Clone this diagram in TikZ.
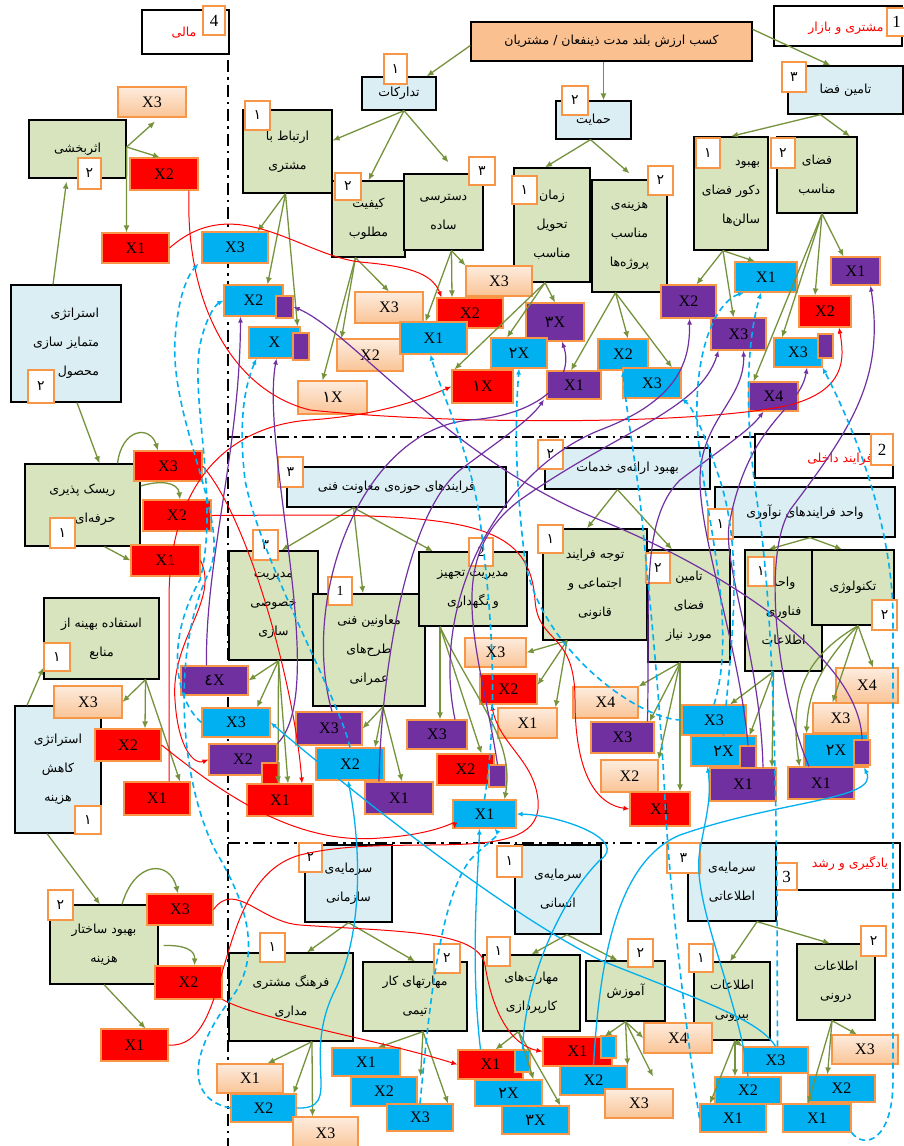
\documentclass[tikz,border=0pt]{standalone}
\usepackage{fontspec}
\setmainfont{Liberation Serif}
\newfontfamily\fa[Script=Arabic]{DejaVu Sans}
\TeXXeTstate=1
\usetikzlibrary{arrows.meta}
\definecolor{cgreen}{RGB}{215,228,189}
\definecolor{cblue}{RGB}{218,238,243}
\definecolor{corange}{RGB}{250,192,144}
\definecolor{corg}{RGB}{247,150,70}
\definecolor{xred}{RGB}{255,0,0}
\definecolor{xcyan}{RGB}{0,176,240}
\definecolor{xpurple}{RGB}{112,48,160}
\definecolor{peachT}{RGB}{253,236,222}
\definecolor{peachB}{RGB}{250,196,150}
\definecolor{carrow}{RGB}{118,146,60}
\newcommand\FA[1]{{\fa\beginR #1\endR}}
\newcommand\Bx[7]{%
 \pgfmathsetmacro\bxw{#5-#3}\pgfmathsetmacro\bxh{#6-#4}%
 \pgfmathsetmacro\bxx{(#3+#5)/2}\pgfmathsetmacro\bxy{(#4+#6)/2}%
 \node[#2,minimum width=\bxw pt,minimum height=\bxh pt] (#1) at (\bxx,\bxy) {#7};}
\begin{document}
\begin{tikzpicture}[x=1pt,y=-1pt,
 box/.style={rectangle,draw=black,line width=1.3pt,inner sep=0pt,align=center,font=\fontsize{12.5}{29}\selectfont},
 gbox/.style={box,fill=cgreen},
 bbox/.style={box,fill=cblue},
 obox/.style={box,fill=corange},
 wbox/.style={box,fill=white},
 badge/.style={rectangle,draw=corg,line width=1.4pt,fill=white,inner sep=0pt,font=\fontsize{14}{14}\selectfont},
 hbadge/.style={badge,font=\fontsize{17}{17}\selectfont},
 xb/.style={rectangle,draw=corg,line width=1.1pt,inner sep=0pt,font=\fontsize{16}{16}\selectfont},
 xr/.style={xb,fill=xred}, xc/.style={xb,fill=xcyan}, xp/.style={xb,fill=xpurple},
 xo/.style={xb,top color=peachT,bottom color=peachB},
 htext/.style={text=red,font=\fontsize{12.5}{12.5}\selectfont,inner sep=0pt},
 arr/.style={draw=carrow,line width=1.3pt,-{Latex[length=7pt,width=6pt]}},
 rl/.style={draw=red,line width=1pt,-{Latex[length=6pt,width=5pt]}},
 pl/.style={draw=xpurple,line width=1.2pt,-{Latex[length=6pt,width=5pt]}},
 bl/.style={draw=xcyan,line width=1.3pt,-{Latex[length=6pt,width=5pt]}},
 bd/.style={draw=xcyan,line width=1.6pt,dash pattern=on 6pt off 4pt,-{Latex[length=6pt,width=5pt]}},
 sepl/.style={draw=black,line width=2.4pt,dash pattern=on 12pt off 5pt on 2.5pt off 5pt}]
\useasboundingbox (0,0) rectangle (904,1146);
\fill[white] (0,0) rectangle (904,1146);
% separators
\coordinate (v1) at (228,60); \coordinate (v2) at (228,1146);
\coordinate (h1a) at (228,437); \coordinate (h1b) at (755,437);
\coordinate (h2a) at (228,843); \coordinate (h2b) at (776,843);
\draw[sepl] (v1) -- (v2);
\draw[sepl] (h1a) -- (h1b);
\draw[sepl] (h2a) -- (h2b);
% headers
\Bx{hMali}{wbox}{142}{10}{229}{54}{}
\node[htext] (tMali) at (184,33) {\FA{مالی}};
\Bx{bMali}{hbadge}{203}{6}{225}{35}{4}
\Bx{hMosh}{wbox}{774}{6}{902}{46}{}
\node[htext] (tMosh) at (846,28) {\FA{مشتری و بازار}};
\Bx{bMosh}{hbadge}{887}{8}{906}{36}{1}
\Bx{hFar}{wbox}{755}{434}{893}{478}{}
\node[htext] (tFar) at (840,459) {\FA{فرایند داخلی}};
\Bx{bFar}{hbadge}{871}{434}{893}{465}{2}
\Bx{hYad}{wbox}{776}{843}{900}{890}{}
\node[htext] (tYad) at (850,863) {\FA{یادگیری و رشد}};
\Bx{bYad}{hbadge}{776}{863}{797}{890}{3}
% customer
\Bx{main}{obox}{471}{22}{752}{61}{\FA{کسب ارزش بلند مدت ذینفعان / مشتریان}}
\Bx{tadarokat}{bbox}{362}{77}{436}{110}{\FA{تدارکات}}
\Bx{hemayat}{bbox}{556}{101}{631}{139}{\FA{حمایت}}
\Bx{tamin}{bbox}{788}{66}{903}{114}{\FA{تامین فضا}}
\Bx{bTad}{badge}{384}{54}{407}{84}{\fa ۱}
\Bx{bHem}{badge}{562}{86}{588}{115}{\fa ۲}
\Bx{bTam}{badge}{782}{62}{806}{92}{\fa ۳}
\Bx{ertebat}{gbox}{243}{110}{332}{193}{\FA{ارتباط با}\\\FA{مشتری}}
\Bx{kifiyat}{gbox}{332}{181}{405}{257}{\FA{کیفیت}\\\FA{مطلوب}}
\Bx{dastresi}{gbox}{404}{174}{483}{250}{\FA{دسترسی}\\\FA{ساده}}
\Bx{zaman}{gbox}{514}{168}{590}{282}{\FA{زمان}\\\FA{تحویل}\\\FA{مناسب}}
\Bx{hazine}{gbox}{592}{180}{667}{292}{\FA{هزینه‌ی}\\\FA{مناسب}\\\FA{پروژه‌ها}}
\Bx{behbud}{gbox,align=right}{694}{137}{768}{250}{\FA{بهبود}\\\FA{دکور فضای}\\\FA{سالن‌ها}}
\Bx{fazaye}{gbox}{777}{137}{857}{213}{\FA{فضای}\\\FA{مناسب}}
\Bx{bErt}{badge}{245}{101}{270}{130}{\fa ۱}
\Bx{bKif}{badge}{335}{173}{361}{200}{\fa ۲}
\Bx{bDas}{badge}{469}{157}{495}{185}{\fa ۳}
\Bx{bZam}{badge}{512}{176}{537}{204}{\fa ۱}
\Bx{bHaz}{badge}{648}{166}{673}{195}{\fa ۲}
\Bx{bBeh}{badge}{696}{138}{720}{168}{\fa ۱}
\Bx{bFaz}{badge}{771}{138}{795}{168}{\fa ۲}
\Bx{eX3}{xc}{202}{232}{268}{263}{X3}
\Bx{eX2}{xc}{224}{285}{283}{316}{X2}
\Bx{eX2sq}{xp}{276}{296}{293}{318}{}
\Bx{eX}{xc}{249}{327}{300}{358}{X}
\Bx{eXsq}{xp}{293}{333}{309}{360}{}
\Bx{kX3}{xo}{355}{292}{423}{323}{X3}
\Bx{kX2}{xo}{337}{339}{403}{371}{X2}
\Bx{kX1}{xo}{298}{381}{367}{414}{{\fa ۱}X}
\Bx{dX3}{xo}{466}{266}{532}{296}{X3}
\Bx{dX2}{xr}{437}{298}{503}{328}{X2}
\Bx{dX1}{xc}{400}{322}{467}{354}{X1}
\Bx{zX3}{xp}{526}{303}{584}{341}{{\fa ۳}X}
\Bx{zX2}{xc}{491}{338}{547}{368}{{\fa ۲}X}
\Bx{zX1}{xr}{452}{370}{513}{403}{{\fa ۱}X}
\Bx{hX1}{xp}{547}{371}{601}{399}{X1}
\Bx{hX2}{xc}{598}{339}{648}{370}{X2}
\Bx{hX3}{xc}{623}{368}{681}{398}{X3}
\Bx{bX2}{xp}{661}{285}{716}{318}{X2}
\Bx{bX1}{xc}{735}{262}{797}{292}{X1}
\Bx{bX3}{xp}{711}{318}{766}{350}{X3}
\Bx{fX1}{xp}{831}{257}{880}{285}{X1}
\Bx{fX2}{xr}{799}{296}{851}{327}{X2}
\Bx{fX3}{xc}{774}{338}{822}{367}{X3}
\Bx{fX3sq}{xp}{818}{334}{833}{358}{}
\Bx{fX4}{xp}{749}{382}{798}{411}{X4}
% finance
\Bx{asar}{gbox}{29}{120}{126}{178}{\FA{اثربخشی}}
\Bx{bAsar}{badge}{78}{158}{101}{189}{\fa ۲}
\Bx{aX3}{xo}{118}{87}{186}{117}{X3}
\Bx{aX2}{xr}{130}{158}{198}{190}{X2}
\Bx{aX1}{xr}{102}{233}{169}{263}{X1}
\Bx{motamayez}{bbox,align=right}{11}{285}{121}{402}{\FA{استراتژی}\\\FA{متمایز سازی}\\\FA{محصول}}
\Bx{bMot}{badge}{28}{370}{54}{403}{\fa ۲}
\Bx{risk}{gbox,align=right}{25}{464}{140}{546}{\FA{ریسک پذیری}\\\FA{حرفه‌ای}}
\Bx{bRisk}{badge}{50}{518}{75}{548}{\fa ۱}
\Bx{rX3}{xr}{134}{451}{202}{481}{X3}
\Bx{rX2}{xr}{143}{500}{211}{531}{X2}
\Bx{rX1}{xr}{131}{545}{200}{576}{X1}
\Bx{estefade}{gbox}{44}{598}{159}{679}{\FA{استفاده بهینه از}\\\FA{منابع}}
\Bx{bEst}{badge}{44}{643}{70}{671}{\fa ۱}
\Bx{kahesh}{bbox}{15}{706}{101}{833}{\FA{استراتژی}\\\FA{کاهش}\\\FA{هزینه}}
\Bx{bKah}{badge}{75}{806}{101}{834}{\fa ۱}
\Bx{cX3}{xo}{54}{686}{122}{718}{X3}
\Bx{cX2}{xr}{95}{729}{161}{761}{X2}
\Bx{cX1}{xr}{124}{782}{190}{815}{X1}
\Bx{sakhtar}{gbox}{50}{905}{158}{984}{\FA{بهبود ساختار}\\\FA{هزینه}}
\Bx{bSak}{badge}{48}{890}{73}{920}{\fa ۲}
\Bx{sX3}{xr}{147}{894}{213}{925}{X3}
\Bx{sX2}{xr}{155}{966}{222}{999}{X2}
\Bx{sX1}{xr}{101}{1029}{168}{1061}{X1}
% internal
\Bx{erae}{bbox}{545}{448}{710}{489}{\FA{بهبود ارائه‌ی خدمات}}
\Bx{bErae}{badge}{538}{440}{563}{469}{\fa ۲}
\Bx{fani}{bbox}{287}{467}{506}{507}{\FA{فرایندهای حوزه‌ی معاونت فنی}}
\Bx{bFani}{badge}{278}{457}{303}{487}{\fa ۳}
\Bx{noavari}{bbox}{715}{487}{895}{537}{\FA{واحد فرایندهای نوآوری}}
\Bx{bNoa}{badge}{708}{509}{733}{539}{\fa ۱}
\Bx{kh}{gbox}{229}{551}{318}{660}{\FA{مدیریت}\\\FA{خصوصی}\\\FA{سازی}}
\Bx{bKh}{badge}{253}{530}{278}{560}{\fa ۳}
\Bx{moaven}{gbox}{313}{594}{425}{706}{\FA{معاونین فنی}\\\FA{طرح‌های}\\\FA{عمرانی}}
\Bx{bMoa}{badge}{328}{577}{352}{605}{1}
\Bx{tajhiz}{gbox}{419}{552}{527}{626}{\FA{مدیریت تجهیز}\\\FA{و نگهداری}}
\Bx{bTaj}{badge}{469}{538}{493}{566}{2}
\Bx{tavajoh}{gbox}{543}{529}{647}{640}{\FA{توجه فرایند}\\\FA{اجتماعی و}\\\FA{قانونی}}
\Bx{bTav}{badge}{538}{525}{563}{553}{\fa ۱}
\Bx{tamin2}{gbox}{648}{550}{730}{662}{\FA{تامین}\\\FA{فضای}\\\FA{مورد نیاز}}
\Bx{bTam2}{badge}{646}{553}{670}{583}{\fa ۲}
\Bx{fanavari}{gbox}{745}{550}{822}{671}{\FA{واحد}\\\FA{فناوری}\\\FA{اطلاعات}}
\Bx{bFan}{badge}{748}{557}{774}{586}{\fa ۱}
\Bx{tech}{gbox}{812}{550}{894}{625}{\FA{تکنولوژی}}
\Bx{bTech}{badge}{872}{600}{897}{630}{\fa ۲}
\Bx{k4}{xp}{181}{666}{248}{695}{{\fa ٤}X}
\Bx{k3}{xc}{202}{708}{270}{737}{X3}
\Bx{k2}{xp}{209}{744}{277}{775}{X2}
\Bx{k2sq}{xr}{262}{763}{279}{785}{}
\Bx{k1}{xr}{247}{784}{313}{816}{X1}
\Bx{m3}{xp}{296}{712}{362}{745}{X3}
\Bx{m2}{xc}{316}{748}{384}{780}{X2}
\Bx{m1}{xp}{365}{782}{433}{814}{X1}
\Bx{t3}{xp}{407}{720}{467}{749}{X3}
\Bx{t2}{xr}{437}{754}{494}{785}{X2}
\Bx{t2sq}{xp}{489}{765}{506}{787}{}
\Bx{t1}{xc}{453}{800}{516}{828}{X1}
\Bx{v3}{xo}{465}{638}{526}{667}{X3}
\Bx{v2}{xr}{480}{674}{537}{704}{X2}
\Bx{v1}{xo}{498}{708}{557}{738}{X1}
\Bx{n4}{xo}{573}{687}{638}{718}{X4}
\Bx{n3}{xp}{591}{722}{654}{753}{X3}
\Bx{n2}{xo}{601}{760}{658}{792}{X2}
\Bx{n1}{xr}{630}{792}{690}{826}{X1}
\Bx{f3}{xc}{682}{705}{746}{735}{X3}
\Bx{f2}{xc}{691}{736}{756}{766}{{\fa ۲}X}
\Bx{f2sq}{xp}{740}{746}{756}{770}{}
\Bx{f1}{xp}{710}{768}{776}{801}{X1}
\Bx{e4}{xo}{836}{668}{898}{703}{X4}
\Bx{e3}{xo}{813}{703}{868}{733}{X3}
\Bx{e2}{xc}{804}{734}{868}{767}{{\fa ۲}X}
\Bx{e2sq}{xp}{854}{740}{870}{765}{}
\Bx{e1}{xp}{788}{767}{854}{799}{X1}
% learning
\Bx{sazmani}{bbox}{305}{845}{392}{922}{\FA{سرمایه‌ی}\\\FA{سازمانی}}
\Bx{bSaz}{badge}{299}{843}{322}{872}{\fa ۲}
\Bx{ensani}{bbox}{515}{845}{601}{934}{\FA{سرمایه‌ی}\\\FA{انسانی}}
\Bx{bEns}{badge}{497}{846}{522}{877}{\fa ۱}
\Bx{ettelaati}{bbox}{688}{843}{776}{921}{\FA{سرمایه‌ی}\\\FA{اطلاعاتی}}
\Bx{bEtt}{badge}{667}{843}{700}{873}{\fa ۳}
\Bx{farhang}{gbox}{229}{953}{353}{1041}{\FA{فرهنگ مشتری}\\\FA{مداری}}
\Bx{bFar2}{badge}{260}{933}{285}{962}{\fa ۱}
\Bx{kartimi}{gbox}{363}{962}{467}{1031}{\FA{مهارتهای کار}\\\FA{تیمی}}
\Bx{bKar}{badge}{434}{944}{460}{973}{\fa ۲}
\Bx{karpardazi}{gbox}{483}{955}{580}{1031}{\FA{مهارت‌های}\\\FA{کارپردازی}}
\Bx{bKap}{badge}{487}{937}{510}{966}{\fa ۱}
\Bx{amuzesh}{gbox}{586}{961}{665}{1021}{\FA{آموزش}}
\Bx{bAmu}{badge}{628}{939}{653}{967}{\fa ۲}
\Bx{biruni}{gbox}{694}{962}{770}{1040}{\FA{اطلاعات}\\\FA{بیرونی}}
\Bx{bBir}{badge}{689}{944}{713}{972}{\fa ۱}
\Bx{daruni}{gbox}{797}{944}{875}{1020}{\FA{اطلاعات}\\\FA{درونی}}
\Bx{bDar}{badge}{861}{926}{886}{956}{\fa ۲}
\Bx{g1}{xo}{217}{1064}{283}{1093}{X1}
\Bx{g2}{xc}{231}{1094}{296}{1122}{X2}
\Bx{g3}{xo}{293}{1117}{358}{1150}{X3}
\Bx{i1}{xc}{332}{1048}{400}{1076}{X1}
\Bx{i2}{xc}{351}{1077}{417}{1106}{X2}
\Bx{i3}{xc}{387}{1104}{453}{1131}{X3}
\Bx{p1}{xr}{458}{1050}{523}{1079}{X1}
\Bx{p1sq}{xc}{515}{1050}{530}{1072}{}
\Bx{p2}{xc}{475}{1080}{542}{1106}{{\fa ۲}X}
\Bx{p3}{xc}{502}{1106}{569}{1134}{{\fa ۳}X}
\Bx{a4}{xo}{644}{1023}{712}{1053}{X4}
\Bx{a1}{xr}{543}{1037}{612}{1066}{X1}
\Bx{a1sq}{xc}{601}{1036}{616}{1058}{}
\Bx{a2}{xc}{560}{1066}{627}{1095}{X2}
\Bx{a3}{xo}{605}{1089}{673}{1118}{X3}
\Bx{r3}{xc}{743}{1047}{808}{1073}{X3}
\Bx{r2}{xc}{715}{1077}{781}{1104}{X2}
\Bx{r1}{xc}{700}{1104}{766}{1132}{X1}
\Bx{d3}{xo}{832}{1035}{898}{1064}{X3}
\Bx{d2}{xc}{808}{1075}{875}{1102}{X2}
\Bx{d1}{xc}{783}{1104}{851}{1132}{X1}
% olive arrows
\draw[arr] ([yshift=-4]main.west) -- ([xshift=-10]tadarokat.north east);
\draw[arr] ([xshift=-8]main.south) -- ([xshift=10]hemayat.north);
\draw[arr] ([yshift=-8]main.north east) -- ([xshift=-15]tamin.north);
\draw[arr] ([xshift=5]tadarokat.south) -- ([yshift=11]ertebat.east);
\draw[arr] ([xshift=5]tadarokat.south) -- (kifiyat.north);
\draw[arr] ([xshift=5]tadarokat.south) -- ([xshift=5,yshift=11]dastresi.north);
\draw[arr] ([xshift=-3]hemayat.south) -- ([xshift=-7]zaman.north);
\draw[arr] ([xshift=-3]hemayat.south) -- ([yshift=6]hazine.north);
\draw[arr] ([xshift=-25]tamin.south) -- (behbud.north);
\draw[arr] ([xshift=-25]tamin.south) -- ([xshift=33]fazaye.north);
\draw[arr] ([xshift=-2]ertebat.south) -- ([xshift=-11]eX3.north east);
\draw[arr] ([xshift=-2]ertebat.south) -- ([xshift=14]eX2.north);
\draw[arr] ([xshift=-2]ertebat.south) -- ([xshift=-3]eX.north east);
\draw[arr] ([xshift=-13]kifiyat.south) -- (kX3.north);
\draw[arr] ([xshift=-13]kifiyat.south) -- ([xshift=5]kX2.north west);
\draw[arr] ([xshift=-13]kifiyat.south) -- ([xshift=-10]kX1.north);
\draw[arr] ([xshift=8]dastresi.south) -- (dX3.north west);
\draw[arr] ([xshift=8]dastresi.south) -- ([xshift=-18]dX2.north);
\draw[arr] ([xshift=8]dastresi.south) -- ([xshift=-8]dX1.north);
\draw[arr] ([xshift=-7]zaman.south) -- (zX3.north);
\draw[arr] ([xshift=-7]zaman.south) -- ([xshift=-12]zX2.north);
\draw[arr] ([xshift=-7]zaman.south) -- ([xshift=3]zX1.north west);
\draw[arr] ([xshift=-14]hazine.south) -- ([xshift=-3]hX1.north);
\draw[arr] ([xshift=-14]hazine.south) -- ([xshift=5]hX2.north);
\draw[arr] ([xshift=-14]hazine.south) -- ([xshift=20]hX3.north);
\draw[arr] ([xshift=-8]behbud.south) -- ([xshift=8]bX2.north);
\draw[arr] ([xshift=-8]behbud.south) -- ([xshift=-11]bX1.north);
\draw[arr] ([xshift=-8]behbud.south) -- ([xshift=-5]bX3.north);
\draw[arr] ([xshift=5]fazaye.south) -- ([xshift=-12]fX1.north);
\draw[arr] ([xshift=5]fazaye.south) -- ([xshift=-10]fX2.north);
\draw[arr] ([xshift=5]fazaye.south) -- ([xshift=-16]fX3.north);
\draw[arr] ([xshift=5]fazaye.south) -- ([xshift=-20]fX4.north);
\draw[arr] ([yshift=2]asar.east) -- ([xshift=3,yshift=-4]aX3.south);
\draw[arr] ([yshift=2]asar.east) -- ([xshift=-4]aX2.north);
\draw[arr] ([yshift=2]asar.east) -- ([xshift=-9]aX1.north);
\draw[arr] ([xshift=-13]motamayez.north) -- ([xshift=-11,yshift=-3]asar.south);
\draw[arr] ([xshift=11]motamayez.south) -- ([xshift=17]risk.north);
\draw[arr] ([xshift=35]risk.north) .. controls (122,428) and (150,425) .. ([xshift=-10]rX3.north);
\draw[arr] ([yshift=19]risk.east) .. controls (160,480) and (178,482) .. ([xshift=3]rX2.north);
\draw[arr] ([xshift=22]risk.south) -- (rX1.west);
\draw[arr] ([xshift=-31]kahesh.north) -- ([yshift=12]estefade.south west);
\draw[arr] ([xshift=44]estefade.south) -- (cX3.east);
\draw[arr] ([xshift=44]estefade.south) -- ([xshift=17]cX2.north);
\draw[arr] ([xshift=44]estefade.south) -- ([xshift=23]cX1.north);
\draw[arr] ([xshift=-11]kahesh.south) -- ([xshift=-4]sakhtar.north);
\draw[arr] ([xshift=18]sakhtar.north) .. controls (135,860) and (170,860) .. ([xshift=-2]sX3.north);
\draw[arr] ([xshift=5,yshift=-1]sakhtar.east) .. controls (185,945) and (195,950) .. ([xshift=6]sX2.north);
\draw[arr] (sakhtar.south) -- ([xshift=11]sX1.north);
\draw[arr] ([xshift=-43]fani.south) -- ([xshift=8]kh.north);
\draw[arr] ([xshift=-43]fani.south) -- ([xshift=-6]moaven.north);
\draw[arr] ([xshift=-43]fani.south) -- ([xshift=-40]tajhiz.north);
\draw[arr] ([xshift=-10]erae.south) -- ([xshift=-8]tavajoh.north);
\draw[arr] ([xshift=-10]erae.south) -- ([xshift=-17]tamin2.north);
\draw[arr] ([xshift=5]noavari.south) -- ([xshift=-15]fanavari.north);
\draw[arr] ([xshift=5]noavari.south) -- ([xshift=-11]tech.north);
\draw[arr] ([xshift=5]kh.south) -- (k4.east);
\draw[arr] ([xshift=5]kh.south) -- ([xshift=21]k3.north);
\draw[arr] ([xshift=5]kh.south) -- ([xshift=-2]k1.north);
\draw[arr] ([xshift=5]kh.south) -- ([xshift=8]k1.north);
\draw[arr] ([xshift=14]moaven.south) -- (m3.east);
\draw[arr] ([xshift=14]moaven.south) -- ([xshift=25]m2.north);
\draw[arr] ([xshift=14]moaven.south) -- ([xshift=3]m1.north);
\draw[arr] ([xshift=-33]tajhiz.south) -- ([xshift=3]t3.north);
\draw[arr] ([xshift=-33]tajhiz.south) -- ([xshift=16]t2.north);
\draw[arr] ([xshift=-33]tajhiz.south) .. controls (475,700) and (515,740) .. ([xshift=20]t1.north);
\draw[arr] ([xshift=-28]tavajoh.south) -- (v3.east);
\draw[arr] ([xshift=-28]tavajoh.south) -- ([yshift=4]v2.east);
\draw[arr] ([xshift=-28]tavajoh.south) -- ([xshift=-2]v1.north east);
\draw[arr] ([xshift=-9]tamin2.south) -- (n4.north east);
\draw[arr] ([xshift=-9]tamin2.south) -- ([xshift=-5]n3.north east);
\draw[arr] ([xshift=-9]tamin2.south) -- (n2.north east);
\draw[arr] ([xshift=-9]tamin2.south) -- ([xshift=20]n1.north);
\draw[arr] ([xshift=-10]fanavari.south) -- ([xshift=16]f3.north);
\draw[arr] ([xshift=-10]fanavari.south) -- ([xshift=-7]f2.north east);
\draw[arr] ([xshift=-10]fanavari.south) -- ([xshift=29]f1.north);
\draw[arr] ([xshift=5]tech.south) -- ([xshift=6]e4.north);
\draw[arr] ([xshift=5]tech.south) -- ([xshift=-8]e3.north);
\draw[arr] ([xshift=5]tech.south) .. controls (800,660) and (790,700) .. ([xshift=12]e1.north west);
\draw[arr] ([xshift=5]tech.south) .. controls (815,670) and (808,700) .. ([xshift=3]e2.north west);
\draw[arr] (sazmani.south) -- ([xshift=16]farhang.north);
\draw[arr] (sazmani.south) -- (kartimi.north);
\draw[arr] ([xshift=9]ensani.south) -- (karpardazi.north);
\draw[arr] ([xshift=9]ensani.south) -- ([xshift=-8]amuzesh.north);
\draw[arr] ([xshift=25]ettelaati.south) -- ([xshift=-2]biruni.north);
\draw[arr] ([xshift=25]ettelaati.south) -- ([xshift=-6]daruni.north);
\draw[arr] ([xshift=21]farhang.south) -- ([xshift=-16]g1.north east);
\draw[arr] ([xshift=21]farhang.south) -- ([xshift=-3]g2.north east);
\draw[arr] ([xshift=21]farhang.south) -- ([xshift=-13]g3.north);
\draw[arr] ([xshift=8]kartimi.south) -- ([xshift=12]i1.north);
\draw[arr] ([xshift=8]kartimi.south) -- ([xshift=3]i2.north east);
\draw[arr] ([xshift=8]kartimi.south) -- ([xshift=28]i3.north);
\draw[arr] ([xshift=-13]karpardazi.south) -- ([xshift=5]p1.north);
\draw[arr] ([xshift=-13]karpardazi.south) -- ([xshift=25]p2.north);
\draw[arr] ([xshift=-13]karpardazi.south) -- ([xshift=25]p3.north);
\draw[arr] (amuzesh.south) -- (a4.west);
\draw[arr] (amuzesh.south) -- ([xshift=14,yshift=12]a3.north);
\draw[arr] (amuzesh.south) -- (a2.north east);
\draw[arr] (amuzesh.south) -- ([xshift=-8]a1.north east);
\draw[arr] ([xshift=3]biruni.south) -- (r3.north west);
\draw[arr] ([xshift=3]biruni.south) -- ([xshift=-13]r2.north);
\draw[arr] ([xshift=3]biruni.south) -- ([xshift=-23]r1.north);
\draw[arr] ([xshift=-4]daruni.south) -- ([xshift=-8]d3.north);
\draw[arr] ([xshift=-4]daruni.south) -- ([xshift=-14]d2.north);
\draw[arr] ([xshift=-4]daruni.south) -- ([xshift=-9]d1.north);
% red links
\draw[rl] (aX1.east) .. controls (235,190) and (300,255) .. (360,262) .. controls (405,266) and (432,272) .. ([xshift=5]dX2.north west);
\draw[rl] ([xshift=25]aX2.south) .. controls (185,300) and (230,390) .. (310,410) .. controls (450,425) and (700,425) .. (790,405) .. controls (845,390) and (845,360) .. ([xshift=14]fX2.south);
\draw[rl] ([xshift=12]cX1.north) -- (169,600) .. controls (169,470) and (240,425) .. (310,420) .. controls (380,415) and (420,400) .. (zX1.west);
\draw[rl] (rX3.east) .. controls (250,520) and (295,690) .. ([xshift=22]k1.north);
\draw[rl] (rX1.east) .. controls (220,600) and (170,640) .. (175,700) .. controls (178,750) and (195,765) .. (k2.west);
\draw[rl] (rX2.east) -- (300,515) .. controls (480,515) and (530,530) .. (535,600) .. controls (538,645) and (575,630) .. (575,700) .. controls (575,780) and (600,805) .. (n1.west);
\draw[rl] (cX2.east) .. controls (230,800) and (300,845) .. (380,838) .. controls (440,834) and (455,820) .. ([xshift=2]t1.south west);
\draw[rl] (sX1.east) .. controls (235,1050) and (210,880) .. (300,855) .. controls (400,830) and (545,870) .. (538,800) .. controls (534,760) and (500,745) .. ([xshift=-17]v2.south);
\draw[rl] (sX3.east) .. controls (235,880) and (260,922) .. (300,925) .. controls (400,932) and (478,930) .. (485,965) .. controls (492,1010) and (510,1045) .. (a1.west);
\draw[rl] (sX2.south east) .. controls (260,1020) and (380,1040) .. (p1.west);
% purple links
\draw[pl] ([xshift=-8]k4.north) .. controls (205,560) and (240,450) .. ([xshift=-13]eX2.south);
\draw[pl] (k2.north east) .. controls (330,690) and (260,450) .. ([xshift=2]eX.south);
\draw[pl] ([xshift=3]m3.north) .. controls (300,600) and (360,430) .. (470,420) .. controls (540,415) and (575,380) .. ([xshift=7]zX3.south);
\draw[pl] ([xshift=-20]m1.north) .. controls (380,700) and (400,520) .. (460,470) .. controls (500,440) and (530,420) .. ([xshift=-30]hX1.south);
\draw[pl] ([xshift=18]t3.north) .. controls (430,600) and (500,470) .. (600,430) .. controls (680,400) and (690,360) .. ([xshift=1]bX2.south);
\draw[pl] (t2sq.north) .. controls (480,650) and (440,560) .. (520,500) .. controls (620,430) and (700,410) .. ([xshift=-20]bX3.south);
\draw[pl] ([xshift=25]n3.north) .. controls (650,600) and (640,520) .. (680,480) .. controls (720,450) and (750,430) .. ([xshift=-10]fX4.south);
\draw[pl] ([xshift=20]f1.north) .. controls (760,650) and (720,560) .. (730,520) .. controls (750,420) and (800,410) .. ([xshift=9]fX3.south);
\draw[pl] ([xshift=-12]e1.north) .. controls (780,700) and (760,560) .. (790,510) .. controls (850,430) and (885,380) .. ([xshift=15]fX1.south);
\draw[pl] (f2sq.north) .. controls (740,650) and (700,540) .. (700,480) .. controls (700,420) and (745,400) .. ([xshift=5]bX3.south);
\draw[pl] (e2sq.north) .. controls (860,650) and (700,560) .. (600,520) .. controls (450,460) and (350,330) .. (eX2sq.east);
% blue solid links
\draw[bl] (g2.east) .. controls (345,1110) and (300,1060) .. (335,990) .. controls (365,930) and (360,840) .. ([xshift=-2]m2.south);
\draw[bl] ([xshift=-10]p1.north) .. controls (470,960) and (478,880) .. ([xshift=-5]t1.south);
\draw[bl] (r3.north) .. controls (760,1020) and (700,1000) .. (600,960) .. controls (500,910) and (350,790) .. (k3.east);
\draw[bl] (a2.north) .. controls (600,950) and (620,860) .. (680,835) .. controls (780,800) and (880,800) .. ([xshift=28]e2.south);
\draw[bl] (r2.north) .. controls (740,1000) and (690,900) .. (700,850) .. controls (705,820) and (712,800) .. ([xshift=-16]f2.south);
\draw[bl] (p1sq.north) .. controls (525,980) and (560,900) .. (600,860) .. controls (630,840) and (560,815) .. (t1.east);
% blue dashed links
\draw[bd] (g2.west) .. controls (190,1100) and (185,1060) .. (230,1000) .. controls (265,955) and (245,900) .. (215,850) .. controls (180,780) and (170,650) .. (210,570) .. controls (230,520) and (170,420) .. (175,340) .. controls (178,295) and (188,275) .. ([xshift=-3]eX3.south west);
\draw[bd] (k3.west) .. controls (175,700) and (165,640) .. (200,580) .. controls (220,500) and (190,400) .. (200,345) .. controls (205,320) and (215,305) .. (eX2.west);
\draw[bd] (m2.north) .. controls (340,700) and (260,560) .. (245,480) .. controls (238,420) and (245,385) .. ([xshift=-18]eX.south);
\draw[bd] (t1.north) .. controls (500,700) and (490,600) .. (480,520) .. controls (470,450) and (440,390) .. ([xshift=-3]dX1.south);
\draw[bd] (f3.west) .. controls (640,720) and (540,650) .. (525,560) .. controls (515,480) and (515,420) .. (zX2.south);
\draw[bd] (f3.north) .. controls (740,620) and (700,500) .. (697,420) .. controls (695,340) and (720,300) .. ([xshift=-22]bX1.south);
\draw[bd] (d1.south east) .. controls (865,1150) and (893,1140) .. (893,1080) -- (893,620) .. controls (893,520) and (850,420) .. (fX3.south east);
\draw[bd] (f2.north) .. controls (730,650) and (745,560) .. (720,480) .. controls (700,420) and (690,405) .. (hX3.south east);
\draw[bd] (r1.west) .. controls (690,1060) and (670,900) .. (665,800) .. controls (660,700) and (650,600) .. (640,500) .. controls (632,440) and (625,400) .. (hX2.south);
\draw[bd] (i3.north) .. controls (430,1000) and (440,900) .. (470,860) .. controls (490,840) and (500,835) .. ([xshift=10]t1.south);
\draw[bd] ([xshift=2]r3.north) -- (777,900) .. controls (775,700) and (770,600) .. (760,520) .. controls (740,400) and (750,330) .. ([xshift=-5]bX1.south);
\end{tikzpicture}
\end{document}
